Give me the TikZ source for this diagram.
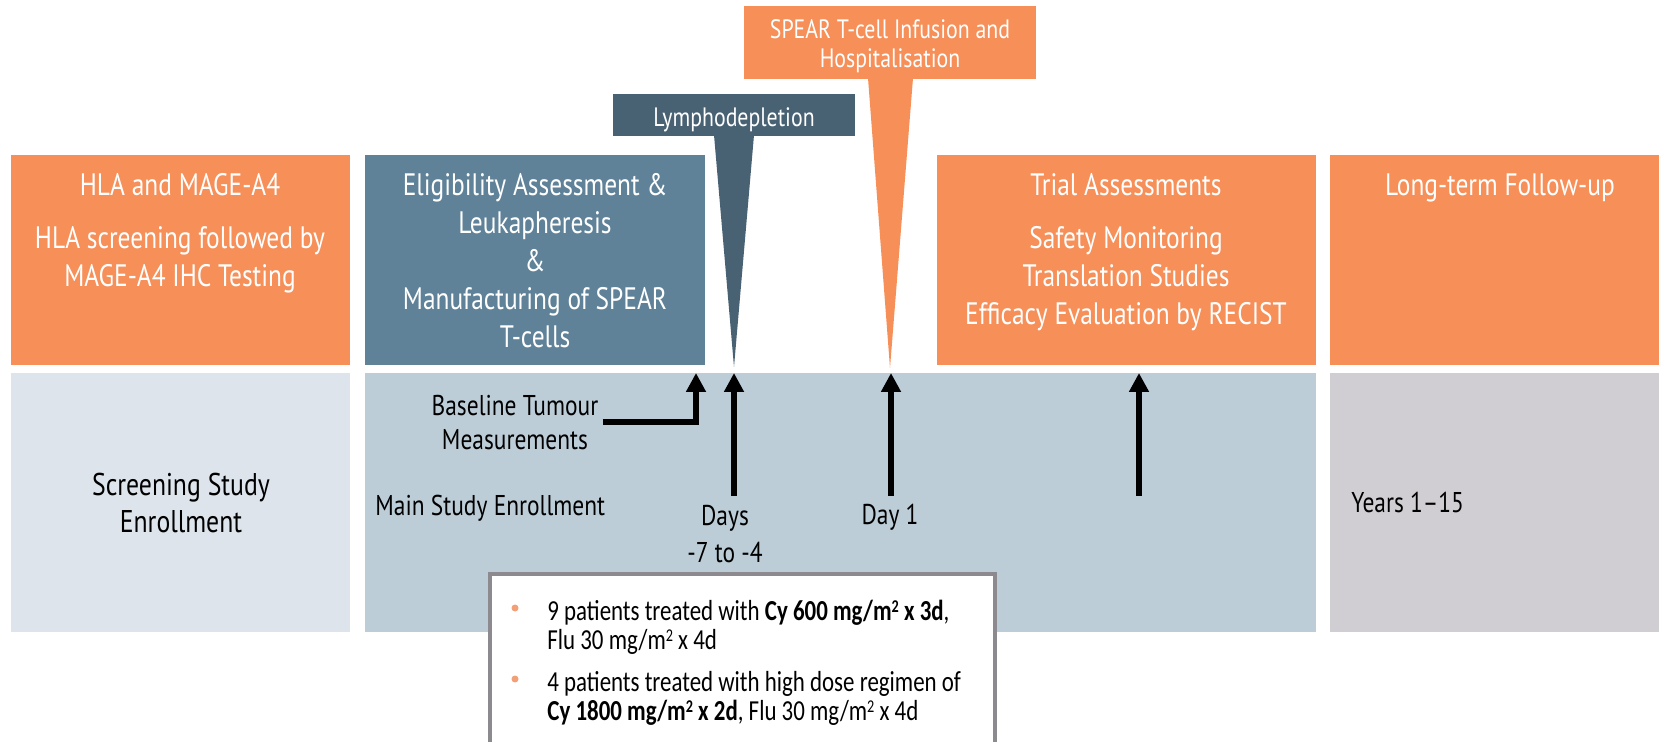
\documentclass[tikz,border=0pt]{standalone}
\usepackage{fontspec}
\setmainfont{PT Sans}[FakeStretch=0.82]
\newfontfamily\bulletfont{Carlito}[FakeStretch=0.79]
\usetikzlibrary{arrows.meta}
\definecolor{tcOrange}{HTML}{F68F58}
\definecolor{tcBlue}{HTML}{5F8298}
\definecolor{tcDark}{HTML}{486274}
\definecolor{tcPale}{HTML}{DDE4EB}
\definecolor{tcBand}{HTML}{BCCDD7}
\definecolor{tcGrey}{HTML}{D0CED2}
\definecolor{tcFrame}{HTML}{8C8A8E}
\definecolor{tcDot}{HTML}{F2A078}
\def\hdrfont{\fontsize{15.5}{19}\selectfont}
\def\callfont{\fontsize{13.3}{14.5}\selectfont}
\def\lblfont{\fontsize{14.3}{18.5}\selectfont}
\newcommand\sqm{m\raisebox{0.55ex}{\fontsize{9}{9}\selectfont 2}}
\tikzset{
	hdr/.style={font=\hdrfont, text=white, align=center, inner sep=0pt, anchor=north},
	lbl/.style={font=\lblfont, align=center, inner sep=0pt},
	dose/.style={font=\bulletfont\fontsize{14.5}{17}\selectfont, inner sep=0pt, anchor=base west},
	uparrow/.style={line width=3pt, -{Triangle[width=9.5pt,length=9.5pt]}},
}

\begin{document}
\begin{tikzpicture}[x=0.5pt, y=-0.5pt]
			%%%%% START %%%%%
			\useasboundingbox (0, 0) rectangle (1659, 742);
			\clip (0, 0) rectangle (1659, 742);
			
			% upper row
			\fill[tcOrange] (11, 155) rectangle (350, 365);
			\fill[tcBlue] (365, 155) rectangle (705, 365);
			\fill[tcOrange] (937, 155) rectangle (1316, 365);
			\fill[tcOrange] (1330, 155) rectangle (1665, 365);
			
			% lower row
			\fill[tcPale] (11, 373) rectangle (350, 632);
			\fill[tcBand] (365, 373) rectangle (1316, 632);
			\fill[tcGrey] (1330, 373) rectangle (1665, 632);
			
			% callouts
			\fill[tcDark] (613, 94) rectangle (855, 136);
			\fill[tcDark] (714, 135) -- (754, 135) -- (734, 367) -- cycle;
			\fill[tcOrange] (744, 6) rectangle (1036, 79);
			\fill[tcOrange] (868, 78) -- (913, 78) -- (890, 368) -- cycle;
			\node[hdr, font=\callfont] (lymph) at (734, 107) {Lymphodepletion};
			\node[hdr, font=\callfont] (infusion) at (890, 19) {SPEAR T-cell Infusion and\\Hospitalisation};
			
			\node[hdr] (hla) at (180, 173) {HLA and MAGE-A4\\[7.5pt]HLA screening followed by\\MAGE-A4 IHC Testing};
			\node[hdr] (elig) at (535, 173) {Eligibility Assessment \&\\Leukapheresis\\\&\\Manufacturing of SPEAR\\T-cells};
			\node[hdr] (trial) at (1126, 173) {Trial Assessments\\[7.5pt]Safety Monitoring\\Translation Studies\\Efficacy Evaluation by RECIST};
			\node[hdr] (ltfu) at (1500, 173) {Long-term Follow-up};
			
			\node[lbl, anchor=north, font=\fontsize{15.7}{18.5}\selectfont] (screen) at (181, 472.5) {Screening Study\\Enrollment};
			\node[lbl, anchor=north, font=\fontsize{14.3}{17}\selectfont] (tumour) at (515, 394.5) {Baseline Tumour\\Measurements};
			\node[lbl, anchor=base west] (enrol) at (375, 516) {Main Study Enrollment};
			\node[lbl, anchor=north] (days) at (725, 504.5) {Days\\-7 to -4};
			\node[lbl, anchor=base] (day1) at (890, 524) {Day 1};
			\node[lbl, anchor=base west] (years) at (1351, 513) {Years 1--15};
			
			% arrows
			\coordinate (tumourtip) at (696, 373);
			\coordinate (lymphtip) at (734, 373);
			\coordinate (lymphfoot) at (734, 496);
			\coordinate (infusiontip) at (891, 373);
			\coordinate (infusionfoot) at (891, 496);
			\coordinate (trialtip) at (1139, 373);
			\coordinate (trialfoot) at (1139, 496);
			\draw[uparrow] ([xshift=2pt]tumour.east) -| (tumourtip);
			\draw[uparrow] (lymphfoot) -- (lymphtip);
			\draw[uparrow] (infusionfoot) -- (infusiontip);
			\draw[uparrow] (trialfoot) -- (trialtip);
			
			% regimen box
			\draw[line width=2pt, color=tcFrame, fill=white] (490, 574) rectangle (995, 760);
			\fill[tcDot] (515, 608) circle (3.5);
			\fill[tcDot] (515, 679) circle (3.5);
			\node[dose] (doseA) at (547, 620) {9 patients treated with \textbf{Cy 600 mg/\sqm{} x 3d},};
			\node[dose] (doseB) at (547, 649) {Flu 30 mg/\sqm{} x 4d};
			\node[dose] (doseC) at (547, 691) {4 patients treated with high dose regimen of};
			\node[dose] (doseD) at (547, 720) {\textbf{Cy 1800 mg/\sqm{} x 2d}, Flu 30 mg/\sqm{} x 4d};
			%%%%% END %%%%%
\end{tikzpicture}
\end{document}
